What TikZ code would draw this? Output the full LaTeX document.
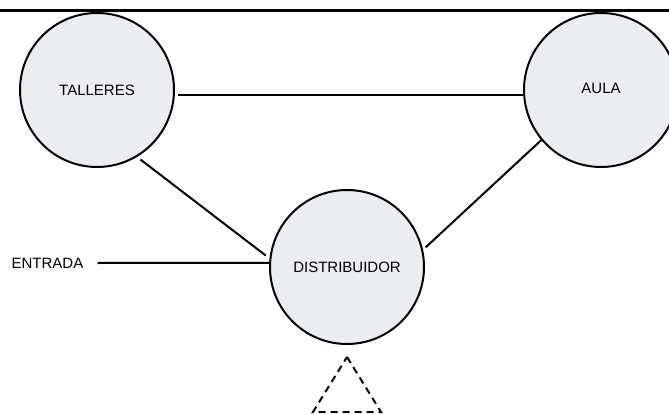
\documentclass[tikz,border=0pt]{standalone}
\usepackage{fontspec}
\setmainfont{Liberation Sans}
\usepackage{tikz}
\usetikzlibrary{positioning}
\definecolor{roombg}{RGB}{236,237,240}

\begin{document}
\begin{tikzpicture}[x=1pt, y=-1pt, line width=2pt,
    font=\fontsize{15}{18}\selectfont,
    room/.style={circle, draw=black, fill=roombg, minimum size=154pt,
                 inner sep=0pt, line width=2pt},
    link/.style={draw=black, line width=2pt}]
  \useasboundingbox (0,0) rectangle (669,414);

  % top rule
  \draw[line width=2.4pt] (0,10.5) -- (669,10.5);

  % rooms
  \node[room] (tall) at (97,90)  {TALLERES};
  \node[room] (aula) at (601,90) {\raisebox{4pt}{AULA}};
  \node[room] (dist) at (347,267) {DISTRIBUIDOR};
  \node (entr) at (47.5,263) {ENTRADA};

  % connections
  \draw[link] ([xshift=3pt]tall.-4.5) -- (aula.184.5);
  \draw[link] ([shift={(-58:4pt)}]tall.-58) -- ([shift={(172:4pt)}]dist.172);
  \draw[link] (aula.220) -- ([shift={(14:3pt)}]dist.14);
  \draw[link] ([xshift=10pt]entr.east) -- (dist.177);

  % dashed opening below
  \draw[dashed, dash pattern=on 7pt off 5pt, line width=2pt]
    (347,357) -- (381,412) -- (313,412) -- cycle;
\end{tikzpicture}
\end{document}
